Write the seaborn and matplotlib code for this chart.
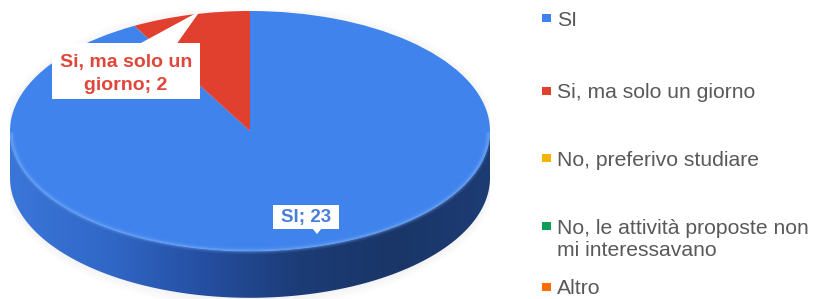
import textwrap

import matplotlib
matplotlib.use("Agg")
import matplotlib.pyplot as plt
import numpy as np
import seaborn as sns
from matplotlib.colors import LinearSegmentedColormap
from matplotlib.patches import Ellipse, Polygon, Rectangle

categories = [
    "SI",
    "Si, ma solo un giorno",
    "No, preferivo studiare",
    "No, le attività proposte non mi interessavano",
    "Altro",
]
counts = [23, 2, 0, 0, 0]
colors = ["#4083ec", "#e2402f", "#f4b400", "#0f9d58", "#ff6d00"]
label_colors = ["#4a7fd6", "#e0473a"]

sns.set_theme(style="white")
plt.rcParams["font.family"] = ["Liberation Sans", "DejaVu Sans"]

W, H = 827, 299
fig = plt.figure(figsize=(W / 100, H / 100), dpi=100)


def px_axes(x0, y0, w, h):
    # box given in pixels from the top-left corner
    return fig.add_axes([x0 / W, 1 - (y0 + h) / H, w / W, h / H])


depth = 0.39
ax = px_axes(10, 11, 480, 288)

# soft grey shadow round the base
for k in range(6):
    for c in np.linspace(0, -depth, 4):
        ax.add_patch(Ellipse((0, c - 0.01), 2 + 0.012 * k, 2 + 0.03 * k,
                             facecolor="#9a9a9a", edgecolor="none", alpha=0.012, zorder=0.2))

# cylinder side: horizontal gradient clipped to the band under the top face
t = np.linspace(np.pi, 2 * np.pi, 300)
band = np.concatenate([
    np.c_[np.cos(t), np.sin(t)],
    np.c_[np.cos(t[::-1]), np.sin(t[::-1]) - depth],
])
side_cmap = LinearSegmentedColormap.from_list(
    "side", ["#3a76d8", "#3168c8", "#254fa2", "#1c3c76", "#1a3668", "#1d3c74"]
)
img = ax.imshow(np.linspace(0, 1, 256)[None, :], extent=(-1, 1, -1 - depth, 0),
                aspect="auto", cmap=side_cmap, zorder=0.5)
clip = Polygon(band, closed=True, facecolor="none", edgecolor="none")
ax.add_patch(clip)
img.set_clip_path(clip)

wedges, _ = ax.pie(counts, colors=colors, startangle=90, counterclock=False,
                   radius=1, center=(0, 0), wedgeprops=dict(linewidth=0))

# light bevel along the front edge of the top face
for w, a in [(5, 0.12), (3, 0.2), (1.5, 0.45)]:
    ax.plot(0.993 * np.cos(t), 0.985 * np.sin(t) - 0.012, color="#6ea8fa",
            lw=w, alpha=a, zorder=3, solid_capstyle="butt")

ax.set_aspect("auto")
ax.set_xlim(-1, 1)
ax.set_ylim(-1 - depth - 0.01, 1.0)
ax.axis("off")

# overlay in pixel coordinates for callouts and legend
ov = fig.add_axes([0, 0, 1, 1])

# data labels (box x, y, w, h, pointer polygon, text centre, wrap width)
label_layout = [
    (273, 205, 66, 24, [(312, 228), (317, 234), (322, 228)], (306, 217.5), 20),
    (52, 43, 148, 56, [(140, 43.5), (200, 11), (177, 43.5)], (126, 74), 14),
]
for i, (bx, by, bw, bh, ptr, (tx, ty), wrap) in enumerate(label_layout):
    ov.add_patch(Rectangle((bx, by), bw, bh, facecolor="white", edgecolor="none"))
    ov.add_patch(Polygon(ptr, closed=True, facecolor="white", edgecolor="none"))
    ov.text(tx, ty, textwrap.fill(f"{categories[i]}; {counts[i]}", wrap),
            ha="center", va="center", fontsize=13.5 if i == 0 else 14,
            fontweight="bold", color=label_colors[i], linespacing=1.45)

# legend
legend_y = [18, 91, 158, 226, 287]
sns.scatterplot(x=[546.5] * len(categories), y=legend_y, hue=categories,
                hue_order=categories, palette=colors, marker="s", s=38,
                linewidth=0, legend=False, ax=ov)
for cat, y in zip(categories, legend_y):
    ov.text(557, y - 7.5, textwrap.fill(cat, 28), ha="left", va="top",
            fontsize=15.2, color="#595959", linespacing=1.25)

ov.set_xlim(0, W)
ov.set_ylim(H, 0)
ov.axis("off")

fig.savefig("out.png", dpi=100)
